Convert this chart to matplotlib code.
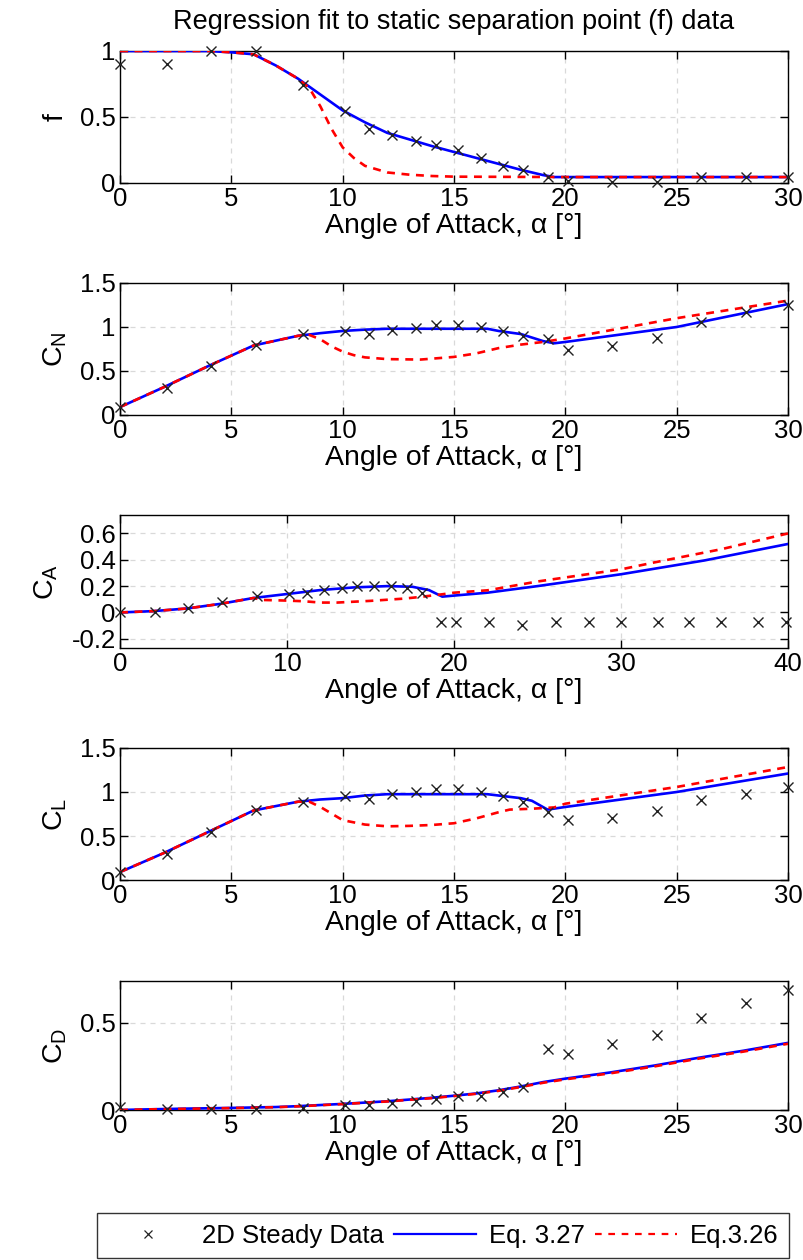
import matplotlib
matplotlib.use("Agg")
import matplotlib.pyplot as plt
from matplotlib.lines import Line2D

plt.rcParams['font.family'] = ['Liberation Sans', 'DejaVu Sans']
plt.rcParams['mathtext.fontset'] = 'custom'
plt.rcParams['mathtext.rm'] = 'Liberation Sans'

# ---- experimental data (angle of attack, deg) ----
alpha_data = [0, 2.1, 4.1, 6.1, 8.2, 10.1, 11.2, 12.2, 13.3, 14.2, 15.2, 16.2,
              17.2, 18.1, 19.2, 20.1, 22.1, 24.1, 26.1, 28.1, 30.0]
alpha_data_ca = alpha_data + [32.2, 34.1, 36.0, 38.2, 39.9]

f_data = [0.9, 0.9, 1.0, 1.0, 0.74, 0.545, 0.41, 0.36, 0.32, 0.29, 0.25, 0.19,
          0.13, 0.1, 0.045, 0.012, 0.01, 0.01, 0.045, 0.045, 0.045]
cn_data = [0.09, 0.31, 0.56, 0.795, 0.92, 0.95, 0.92, 0.97, 0.99, 1.02, 1.02, 1.0,
           0.95, 0.9, 0.86, 0.74, 0.78, 0.88, 1.06, 1.17, 1.25]
ca_data = [0.0, 0.0, 0.033, 0.083, 0.126, 0.143, 0.15, 0.168, 0.183, 0.2, 0.2, 0.2,
           0.183, 0.15, -0.075, -0.075, -0.075, -0.093, -0.075, -0.075, -0.075,
           -0.075, -0.075, -0.075, -0.075, -0.075]
cl_data = [0.09, 0.3, 0.545, 0.8, 0.885, 0.95, 0.925, 0.975, 1.0, 1.03, 1.03, 1.0,
           0.955, 0.886, 0.773, 0.68, 0.705, 0.78, 0.913, 0.973, 1.057]
cd_data = [0.015, 0.006, 0.006, 0.006, 0.011, 0.028, 0.028, 0.04, 0.053, 0.063, 0.078,
           0.082, 0.106, 0.13, 0.348, 0.32, 0.376, 0.433, 0.53, 0.614, 0.69]

# ---- Eq. 3.27 fit (blue) ----
f_fit_a = [0, 4, 5, 6, 7, 8, 9, 10, 11, 12, 13, 14, 15, 16, 17, 18, 19, 19.5, 20, 30]
f_fit = [1, 1, 0.99, 0.975, 0.89, 0.79, 0.67, 0.55, 0.46, 0.38, 0.33, 0.28, 0.235,
         0.19, 0.145, 0.1, 0.06, 0.045, 0.045, 0.045]
cn_fit_a = [0, 2, 4, 6, 8, 9, 10, 11, 12, 16.5, 17, 18, 19, 19.5, 20, 25, 30]
cn_fit = [0.09, 0.32, 0.56, 0.79, 0.9, 0.93, 0.955, 0.97, 0.98, 0.98, 0.955, 0.92,
          0.84, 0.815, 0.83, 1.0, 1.26]
ca_fit_a = [0, 2, 4, 6, 8, 10, 12, 14, 16, 17.5, 18.5, 19.3, 20, 22, 25, 30, 35, 40]
ca_fit = [0, 0.01, 0.03, 0.065, 0.11, 0.14, 0.17, 0.19, 0.2, 0.195, 0.17, 0.12,
          0.128, 0.15, 0.2, 0.29, 0.395, 0.52]
cl_fit_a = [0, 2, 4, 6, 8, 9, 10, 11, 12, 16.5, 17, 18, 18.5, 19.2, 20, 25, 30]
cl_fit = [0.09, 0.31, 0.55, 0.79, 0.89, 0.915, 0.93, 0.96, 0.975, 0.975, 0.96, 0.93,
          0.9, 0.8, 0.83, 1.0, 1.21]
cd_fit_a = [0, 1, 3, 5, 7, 8, 10, 12, 14, 15, 16, 17, 18, 19, 20, 22, 24, 26, 28, 30]
cd_fit = [0, 0.003, 0.008, 0.012, 0.017, 0.022, 0.035, 0.05, 0.07, 0.082, 0.095,
          0.113, 0.135, 0.16, 0.18, 0.215, 0.255, 0.3, 0.34, 0.385]

# ---- Eq. 3.26 fit (red dashed) ----
f_kir_a = [0, 4, 5, 6, 7, 8, 8.5, 9, 9.5, 10, 10.5, 11, 12, 13, 14, 15, 20, 30]
f_kir = [1, 1, 0.99, 0.975, 0.89, 0.79, 0.72, 0.58, 0.41, 0.27, 0.19, 0.13, 0.08,
         0.063, 0.053, 0.048, 0.045, 0.045]
cn_kir_a = [0, 2, 4, 6, 8, 8.5, 9, 9.5, 10, 10.5, 11, 12, 13.5, 15, 16, 17, 18, 19,
            20, 25, 30]
cn_kir = [0.09, 0.32, 0.56, 0.79, 0.9, 0.91, 0.86, 0.78, 0.72, 0.68, 0.655, 0.635,
          0.63, 0.66, 0.7, 0.76, 0.8, 0.83, 0.87, 1.1, 1.3]
ca_kir_a = [0, 2, 4, 6, 8, 8.5, 10, 11, 12, 13, 15, 17, 18, 19.3, 20, 22, 23, 25, 30,
            32, 36, 40]
ca_kir = [0, 0.01, 0.03, 0.065, 0.11, 0.095, 0.09, 0.085, 0.075, 0.075, 0.088, 0.105,
          0.118, 0.138, 0.15, 0.168, 0.19, 0.235, 0.327, 0.38, 0.48, 0.6]
cl_kir_a = [0, 2, 4, 6, 8, 8.5, 9, 10, 11, 12, 13, 14, 15, 16, 17, 17.5, 18.5, 19.5,
            20, 25, 30]
cl_kir = [0.09, 0.31, 0.55, 0.79, 0.89, 0.89, 0.83, 0.68, 0.63, 0.61, 0.615, 0.625,
          0.645, 0.7, 0.77, 0.8, 0.81, 0.825, 0.867, 1.057, 1.284]
cd_kir_a = cd_fit_a
cd_kir = [0, 0.003, 0.007, 0.011, 0.016, 0.021, 0.034, 0.049, 0.068, 0.08, 0.093,
          0.11, 0.132, 0.156, 0.176, 0.21, 0.25, 0.295, 0.335, 0.38]

ylabels = ['f', r'C$_\mathregular{N}$', r'C$_\mathregular{A}$',
           r'C$_\mathregular{L}$', r'C$_\mathregular{D}$']
xlabel = 'Angle of Attack, α [°]'
title = 'Regression fit to static separation point (f) data'
legend_labels = ['2D Steady Data', 'Eq. 3.27', 'Eq.3.26']

W, H = 804, 1260
fig = plt.figure(figsize=(W / 100, H / 100), dpi=100)

# axes boxes in pixels: (top, bottom)
boxes = [(51, 183), (283, 415), (515, 648), (748, 880), (981, 1110)]
left_px, right_px = 120, 788

panels = [
    (alpha_data, f_data, f_fit_a, f_fit, f_kir_a, f_kir, (0, 30), (0, 1), [0, 0.5, 1], ['0', '0.5', '1']),
    (alpha_data, cn_data, cn_fit_a, cn_fit, cn_kir_a, cn_kir, (0, 30), (0, 1.5), [0, 0.5, 1, 1.5], ['0', '0.5', '1', '1.5']),
    (alpha_data_ca, ca_data, ca_fit_a, ca_fit, ca_kir_a, ca_kir, (0, 40), (-0.27, 0.74), [-0.2, 0, 0.2, 0.4, 0.6], ['-0.2', '0', '0.2', '0.4', '0.6']),
    (alpha_data, cl_data, cl_fit_a, cl_fit, cl_kir_a, cl_kir, (0, 30), (0, 1.5), [0, 0.5, 1, 1.5], ['0', '0.5', '1', '1.5']),
    (alpha_data, cd_data, cd_fit_a, cd_fit, cd_kir_a, cd_kir, (0, 30), (0, 0.74), [0, 0.5], ['0', '0.5']),
]

tick_fs = 18.5
label_fs = 20.5
title_fs = 19.5

for i, (box, p) in enumerate(zip(boxes, panels)):
    top, bot = box
    ax = fig.add_axes([left_px / W, 1 - bot / H, (right_px - left_px) / W, (bot - top) / H])
    ad, yd, afa, yfa, aka, yka, xl, yl, yt, ytl = p
    ax.plot(afa, yfa, color='#0000ff', lw=1.9, zorder=3)
    ax.plot(aka, yka, color='#ff0000', lw=1.9, ls=(0, (3, 2.5)), zorder=4)
    ax.plot(ad, yd, ls='none', marker='x', color='#222222', ms=7.5, mew=1.0, zorder=5,
            clip_on=False)
    ax.set_xlim(*xl)
    ax.set_ylim(*yl)
    if xl[1] == 40:
        ax.set_xticks([0, 10, 20, 30, 40])
    else:
        ax.set_xticks([0, 5, 10, 15, 20, 25, 30])
    ax.set_yticks(yt)
    ax.set_yticklabels(ytl)
    ax.grid(True, color='#d9d9d9', ls=(0, (4, 4)), lw=0.9)
    ax.set_axisbelow(True)
    ax.tick_params(direction='in', top=True, right=True, length=6, width=1,
                   labelsize=tick_fs, pad=3)
    for s in ax.spines.values():
        s.set_linewidth(1.0)
        s.set_color('black')
    ax.set_xlabel(xlabel, fontsize=label_fs, labelpad=1)
    ax.set_ylabel(ylabels[i], fontsize=label_fs, labelpad=8)
    if i == 0:
        ax.set_title(title, fontsize=title_fs, pad=16)

handles = [
    Line2D([], [], ls='none', marker='x', color='#222222', ms=6, mew=0.9),
    Line2D([], [], color='#0000ff', lw=1.6),
    Line2D([], [], color='#ff0000', lw=1.6, ls=(0, (3, 3))),
]
leg = fig.legend(handles, legend_labels, loc='lower left',
                 bbox_to_anchor=(97 / W, 1 - 1258 / H, (789 - 97) / W, 45 / H),
                 mode='expand', ncol=3, fontsize=tick_fs, frameon=True,
                 fancybox=False, edgecolor='black', handlelength=3.2,
                 handletextpad=0.5, columnspacing=0.6, borderaxespad=0)
leg.get_frame().set_linewidth(1.0)

fig.savefig('out.png', dpi=100)
